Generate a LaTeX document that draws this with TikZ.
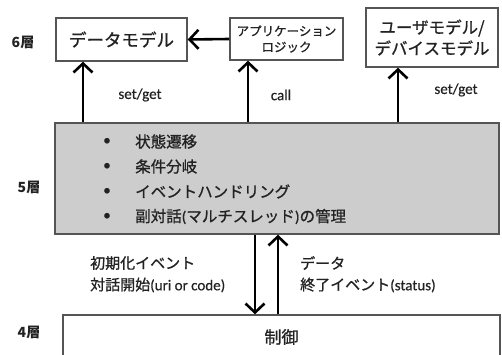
\documentclass[tikz,border=0pt]{standalone}
\usepackage{fontspec}
\setmainfont{Carlito}[UprightFeatures={FakeBold=0.5}]
\newfontfamily\jp{Noto Sans CJK JP}[UprightFeatures={FakeBold=0.9}]
\usetikzlibrary{arrows.meta}
\definecolor{boxline}{HTML}{555555}
\definecolor{txt}{HTML}{222222}
\definecolor{shade}{HTML}{CDCDCD}
\tikzset{
  box/.style={draw=boxline, line width=1.4pt, fill=white, text=txt, align=center, inner sep=0pt},
  arr/.style={draw=black, line width=2.6pt, -{Straight Barb[length=9pt,width=19pt,line width=2.6pt]}},
  lbl/.style={text=txt, inner sep=0pt},
  lay/.style={text=txt, inner sep=0pt, font=\jp\fontsize{14}{16}\selectfont\bfseries},
}
\begin{document}
\begin{tikzpicture}[x=1pt,y=-1pt]
\useasboundingbox (0,0) rectangle (502,355);
% boxes
\node[box, minimum width=131pt, minimum height=43pt, font=\jp\fontsize{17.5}{20}\selectfont] (data) at (121.5,39.5) {データモデル};
\node[box, minimum width=113pt, minimum height=42pt, font=\jp\fontsize{12.5}{16}\selectfont] (app) at (286.5,39) {アプリケーション\\ロジック};
\node[box, minimum width=132pt, minimum height=59pt, font=\jp\fontsize{16.5}{21}\selectfont] (user) at (432,37.5) {ユーザモデル/\\デバイスモデル};
\node[box, fill=shade, minimum width=444pt, minimum height=111pt] (ctl) at (277,178.5) {};
\node[box, minimum width=437pt, minimum height=44pt, font=\jp\fontsize{17}{20}\selectfont] (ctrl) at (281.5,337) {制御};
% layer labels
\node[lay] (l6) at (23,42) {6層};
\node[lay] (l5) at (29,187) {5層};
\node[lay] (l4) at (29,332) {4層};
% bullet list
\foreach \y/\t [count=\i] in {141.5/状態遷移, 166.5/条件分岐, 191.5/イベントハンドリング} {
  \node[lbl, font=\fontsize{15}{18}\selectfont] (b\i) at (107,\y) {•};
  \node[lbl, anchor=west, font=\jp\fontsize{15.5}{18}\selectfont] (t\i) at (135,\y) {\t};
}
\node[lbl, font=\fontsize{15}{18}\selectfont] (b4) at (107,216.5) {•};
\node[lbl, anchor=west, font=\fontsize{15.5}{18}\selectfont] (t4) at (135,216.5) {{\jp 副対話}({\jp マルチスレッド}){\jp の管理}};
% arrow coordinates
\coordinate (xa) at (83,0);
\coordinate (xb) at (248,0);
\coordinate (xc) at (398,0);
\coordinate (xd) at (255,0);
\coordinate (xe) at (278,0);
% arrows
\draw[arr] (app.west) -- (data.east);
\draw[arr] (ctl.north -| xa) -- (data.south -| xa);
\draw[arr] (ctl.north -| xb) -- (app.south -| xb);
\draw[arr] (ctl.north -| xc) -- (user.south -| xc);
\draw[arr] (ctl.south -| xd) -- (ctrl.north -| xd);
\draw[arr] (ctrl.north -| xe) -- (ctl.south -| xe);
% arrow labels
\node[lbl, font=\fontsize{15}{17}\selectfont] (s1) at (140,95) {set/get};
\node[lbl, font=\fontsize{15}{17}\selectfont] (s2) at (281,95) {call};
\node[lbl, font=\fontsize{15}{17}\selectfont] (s3) at (456,90) {set/get};
\node[lbl, anchor=west, font=\jp\fontsize{15}{18}\selectfont] (d1) at (90,263) {初期化イベント};
\node[lbl, anchor=west, font=\fontsize{15}{18}\selectfont] (d2) at (90,285) {{\jp 対話開始}(uri or code)};
\node[lbl, anchor=west, font=\jp\fontsize{15}{18}\selectfont] (u1) at (300,263) {データ};
\node[lbl, anchor=west, font=\fontsize{15}{18}\selectfont] (u2) at (300,285) {{\jp 終了イベント}(status)};
\end{tikzpicture}
\end{document}
